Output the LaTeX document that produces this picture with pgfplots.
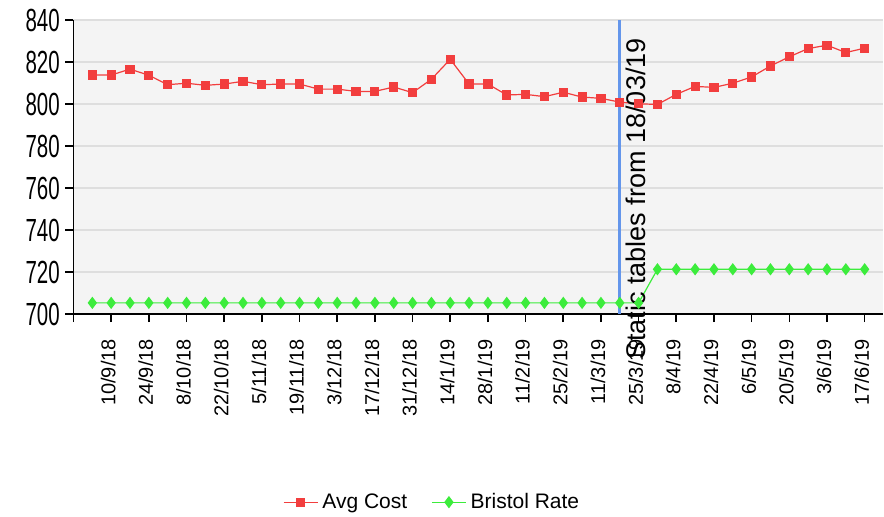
\documentclass[border=0pt]{standalone}
\usepackage{fontspec}
\setmainfont{Liberation Sans}
\usepackage{pgfplots}
\usepackage{pgfplotstable}
\pgfplotsset{compat=1.18}
\definecolor{avgred}{RGB}{242,62,62}
\definecolor{brisgreen}{RGB}{60,236,60}
\definecolor{statblue}{RGB}{100,150,235}
\definecolor{plotbg}{RGB}{244,244,244}
\definecolor{gridc}{RGB}{222,222,222}

\pgfplotstableread{
w v
0 813.8
1 813.8
2 816.6
3 813.7
4 809.2
5 809.9
6 808.9
7 809.5
8 810.8
9 809.2
10 809.5
11 809.5
12 807.1
13 807.1
14 806.0
15 806.0
16 808.1
17 805.4
18 811.8
19 821.3
20 809.5
21 809.5
22 804.3
23 804.6
24 803.5
25 805.6
26 803.3
27 802.7
28 800.9
29 800.1
30 799.8
31 804.6
32 808.4
33 807.9
34 809.9
35 812.9
36 818.1
37 822.5
38 826.4
39 828.0
40 824.5
41 826.6
}\avgcost

\pgfplotstableread{
w v
0 705.3
1 705.3
2 705.3
3 705.3
4 705.3
5 705.3
6 705.3
7 705.3
8 705.3
9 705.3
10 705.3
11 705.3
12 705.3
13 705.3
14 705.3
15 705.3
16 705.3
17 705.3
18 705.3
19 705.3
20 705.3
21 705.3
22 705.3
23 705.3
24 705.3
25 705.3
26 705.3
27 705.3
28 705.3
29 705.3
30 721.3
31 721.3
32 721.3
33 721.3
34 721.3
35 721.3
36 721.3
37 721.3
38 721.3
39 721.3
40 721.3
41 721.3
}\bristol

\begin{document}
\begin{tikzpicture}
\begin{axis}[
  at={(0pt,0pt)}, anchor=south west,
  scale only axis,
  width=405pt, height=147pt,
  xmin=-1, xmax=42, ymin=700, ymax=840,
  enlargelimits=false,
  clip=false,
  axis background/.style={fill=plotbg},
  axis x line=bottom, axis y line=left,
  axis line style={-, line width=0.9pt, black},
  tick align=outside,
  major tick length=4pt,
  tick style={black, line width=0.8pt},
  ytick={700,720,...,840},
  ymajorgrids, grid style={gridc, line width=0.8pt},
  xtick={-1,1,3,...,41},
  xticklabels={,10/9/18,24/9/18,8/10/18,22/10/18,5/11/18,19/11/18,3/12/18,17/12/18,31/12/18,14/1/19,28/1/19,11/2/19,25/2/19,11/3/19,25/3/19,8/4/19,22/4/19,6/5/19,20/5/19,3/6/19,17/6/19},
  /pgf/number format/assume math mode=true,
  yticklabel style={font=\fontsize{16}{16}\selectfont, xscale=0.64, anchor=east, xshift=-1pt},
  xticklabel style={font=\fontsize{10}{10}\selectfont, rotate=90, anchor=east, xshift=-5pt, yshift=1.5pt},
  legend style={at={(0.444,-0.64)}, anchor=center, draw=none, fill=none,
    legend columns=2, font=\fontsize{10.5}{10.5}\selectfont,
    /tikz/every even column/.append style={column sep=10pt}},
]
\addplot[avgred, line width=0.6pt, mark=square*, mark size=2pt, mark options={fill=avgred, draw=avgred}] table[x=w, y=v] {\avgcost};
\addlegendentry{Avg Cost}
\addplot[brisgreen, line width=0.6pt, mark=diamond*, mark size=2.6pt, mark options={fill=brisgreen, draw=brisgreen}] table[x=w, y=v] {\bristol};
\addlegendentry{Bristol Rate}
\addplot[statblue, line width=1.3pt, no marks, forget plot] coordinates {(28,700) (28,840)};
\node[rotate=90, anchor=north east, inner sep=0pt, font=\fontsize{13.5}{13.5}\selectfont, xshift=-9pt, yshift=-3pt] at (axis cs:28,840) {Static tables from 18/03/19};
\end{axis}
\pgfresetboundingbox
\useasboundingbox (-36.75pt,-101pt) rectangle (405.25pt,157pt);
\end{tikzpicture}
\end{document}
